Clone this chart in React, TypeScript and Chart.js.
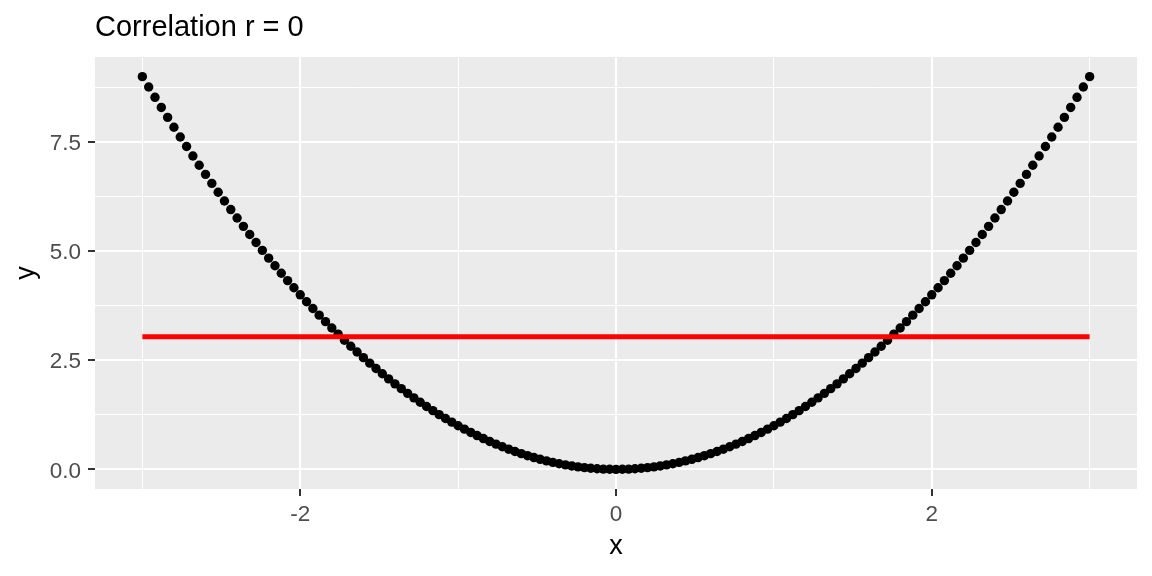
import React, { useEffect, useRef } from "react";
import { Chart, registerables } from "chart.js";

Chart.register(...registerables);

const TITLE = "Correlation r = 0";
const X_LABEL = "x";
const Y_LABEL = "y";

const X_VALUES = [
  -3, -2.96, -2.92, -2.88, -2.84, -2.8, -2.76, -2.72, -2.68, -2.64, -2.6, -2.56, -2.52, -2.48, -2.44, -2.4,
  -2.36, -2.32, -2.28, -2.24, -2.2, -2.16, -2.12, -2.08, -2.04, -2, -1.96, -1.92, -1.88, -1.84, -1.8, -1.76,
  -1.72, -1.68, -1.64, -1.6, -1.56, -1.52, -1.48, -1.44, -1.4, -1.36, -1.32, -1.28, -1.24, -1.2, -1.16, -1.12,
  -1.08, -1.04, -1, -0.96, -0.92, -0.88, -0.84, -0.8, -0.76, -0.72, -0.68, -0.64, -0.6, -0.56, -0.52, -0.48,
  -0.44, -0.4, -0.36, -0.32, -0.28, -0.24, -0.2, -0.16, -0.12, -0.08, -0.04, 0,
  0.04, 0.08, 0.12, 0.16, 0.2, 0.24, 0.28, 0.32, 0.36, 0.4, 0.44, 0.48, 0.52, 0.56, 0.6, 0.64, 0.68, 0.72,
  0.76, 0.8, 0.84, 0.88, 0.92, 0.96, 1, 1.04, 1.08, 1.12, 1.16, 1.2, 1.24, 1.28, 1.32, 1.36, 1.4, 1.44, 1.48,
  1.52, 1.56, 1.6, 1.64, 1.68, 1.72, 1.76, 1.8, 1.84, 1.88, 1.92, 1.96, 2, 2.04, 2.08, 2.12, 2.16, 2.2, 2.24,
  2.28, 2.32, 2.36, 2.4, 2.44, 2.48, 2.52, 2.56, 2.6, 2.64, 2.68, 2.72, 2.76, 2.8, 2.84, 2.88, 2.92, 2.96, 3,
];

const Y_VALUES = [
  9, 8.7616, 8.5264, 8.2944, 8.0656, 7.84, 7.6176, 7.3984, 7.1824, 6.9696, 6.76, 6.5536, 6.3504, 6.1504, 5.9536, 5.76,
  5.5696, 5.3824, 5.1984, 5.0176, 4.84, 4.6656, 4.4944, 4.3264, 4.1616, 4, 3.8416, 3.6864, 3.5344, 3.3856, 3.24, 3.0976,
  2.9584, 2.8224, 2.6896, 2.56, 2.4336, 2.3104, 2.1904, 2.0736, 1.96, 1.8496, 1.7424, 1.6384, 1.5376, 1.44, 1.3456, 1.2544,
  1.1664, 1.0816, 1, 0.9216, 0.8464, 0.7744, 0.7056, 0.64, 0.5776, 0.5184, 0.4624, 0.4096, 0.36, 0.3136, 0.2704, 0.2304,
  0.1936, 0.16, 0.1296, 0.1024, 0.0784, 0.0576, 0.04, 0.0256, 0.0144, 0.0064, 0.0016, 0,
  0.0016, 0.0064, 0.0144, 0.0256, 0.04, 0.0576, 0.0784, 0.1024, 0.1296, 0.16, 0.1936, 0.2304, 0.2704, 0.3136, 0.36, 0.4096,
  0.4624, 0.5184, 0.5776, 0.64, 0.7056, 0.7744, 0.8464, 0.9216, 1, 1.0816, 1.1664, 1.2544, 1.3456, 1.44, 1.5376, 1.6384,
  1.7424, 1.8496, 1.96, 2.0736, 2.1904, 2.3104, 2.4336, 2.56, 2.6896, 2.8224, 2.9584, 3.0976, 3.24, 3.3856, 3.5344, 3.6864,
  3.8416, 4, 4.1616, 4.3264, 4.4944, 4.6656, 4.84, 5.0176, 5.1984, 5.3824, 5.5696, 5.76, 5.9536, 6.1504, 6.3504, 6.5536,
  6.76, 6.9696, 7.1824, 7.3984, 7.6176, 7.84, 8.0656, 8.2944, 8.5264, 8.7616, 9,
];

const MEAN_LINE_X = [-3, 3];
const MEAN_LINE_Y = [3.04, 3.04];

const X_MAJOR_TICKS = [-2, 0, 2];
const X_MINOR_TICKS = [-3, -1, 1, 3];
const X_TICK_LABELS = ["-2", "0", "2"];
const Y_MAJOR_TICKS = [0, 2.5, 5, 7.5];
const Y_MINOR_TICKS = [1.25, 3.75, 6.25, 8.75];
const Y_TICK_LABELS = ["0.0", "2.5", "5.0", "7.5"];

const X_RANGE = [-3.3, 3.3];
const Y_RANGE = [-0.45, 9.45];

const FONT = "'Liberation Sans', Arial, sans-serif";

export default function App() {
  const canvasRef = useRef<HTMLCanvasElement | null>(null);

  useEffect(() => {
    const canvas = canvasRef.current;
    if (!canvas) return;

    const panelBg = {
      id: "panelBg",
      beforeDraw(chart: any) {
        const { ctx, chartArea } = chart;
        ctx.save();
        ctx.fillStyle = "#EBEBEB";
        ctx.fillRect(chartArea.left, chartArea.top, chartArea.right - chartArea.left, chartArea.bottom - chartArea.top);
        ctx.restore();
      },
    };

    const plotTitle = {
      id: "plotTitle",
      afterDraw(chart: any) {
        const { ctx, chartArea } = chart;
        ctx.save();
        ctx.fillStyle = "#000000";
        ctx.font = `29px ${FONT}`;
        ctx.textAlign = "left";
        ctx.textBaseline = "alphabetic";
        ctx.fillText(TITLE, chartArea.left, 36);
        ctx.restore();
      },
    };

    const isMajorX = (v: number) => X_MAJOR_TICKS.includes(v);
    const isMajorY = (v: number) => Y_MAJOR_TICKS.includes(v);

    const chart = new Chart(canvas, {
      type: "scatter",
      data: {
        datasets: [
          {
            type: "line",
            data: MEAN_LINE_X.map((x, i) => ({ x, y: MEAN_LINE_Y[i] })),
            borderColor: "#FF0000",
            borderWidth: 5,
            pointRadius: 0,
            fill: false,
            order: 0,
          } as any,
          {
            type: "scatter",
            data: X_VALUES.map((x, i) => ({ x, y: Y_VALUES[i] })),
            backgroundColor: "#000000",
            borderWidth: 0,
            pointRadius: 4.7,
            order: 1,
          },
        ],
      },
      options: {
        animation: false,
        responsive: false,
        maintainAspectRatio: false,
        layout: { padding: { left: 0, right: 15, top: 57, bottom: 0 } },
        plugins: {
          legend: { display: false },
          tooltip: { enabled: false },
          title: { display: false },
        },
        scales: {
          x: {
            type: "linear",
            min: X_RANGE[0],
            max: X_RANGE[1],
            afterBuildTicks: (scale: any) => {
              scale.ticks = [...X_MINOR_TICKS, ...X_MAJOR_TICKS].sort((a, b) => a - b).map((v) => ({ value: v }));
            },
            afterFit: (scale: any) => {
              scale.height = 87;
            },
            border: { display: false },
            grid: {
              color: "#FFFFFF",
              lineWidth: (ctx: any) => (isMajorX(ctx.tick?.value) ? 2 : 1),
              drawTicks: true,
              tickLength: 7,
              tickWidth: 2,
              tickColor: (ctx: any) => (isMajorX(ctx.tick?.value) ? "#333333" : "rgba(0,0,0,0)"),
            },
            ticks: {
              autoSkip: false,
              maxRotation: 0,
              padding: 5,
              color: "#4D4D4D",
              font: { family: FONT, size: 22.5 },
              callback: (v: any) => {
                const i = X_MAJOR_TICKS.indexOf(Number(v));
                return i >= 0 ? X_TICK_LABELS[i] : "";
              },
            },
            title: {
              display: true,
              text: X_LABEL,
              color: "#000000",
              font: { family: FONT, size: 27, lineHeight: 1 },
              padding: { top: 0, bottom: 16 },
            },
          },
          y: {
            type: "linear",
            min: Y_RANGE[0],
            max: Y_RANGE[1],
            afterBuildTicks: (scale: any) => {
              scale.ticks = [...Y_MINOR_TICKS, ...Y_MAJOR_TICKS].sort((a, b) => a - b).map((v) => ({ value: v }));
            },
            afterFit: (scale: any) => {
              scale.width = 95;
            },
            border: { display: false },
            grid: {
              color: "#FFFFFF",
              lineWidth: (ctx: any) => (isMajorY(ctx.tick?.value) ? 2 : 1),
              drawTicks: true,
              tickLength: 7,
              tickWidth: 2,
              tickColor: (ctx: any) => (isMajorY(ctx.tick?.value) ? "#333333" : "rgba(0,0,0,0)"),
            },
            ticks: {
              autoSkip: false,
              padding: 7,
              labelOffset: 2,
              color: "#4D4D4D",
              font: { family: FONT, size: 22.5 },
              callback: (v: any) => {
                const i = Y_MAJOR_TICKS.indexOf(Number(v));
                return i >= 0 ? Y_TICK_LABELS[i] : "";
              },
            },
            title: {
              display: true,
              text: Y_LABEL,
              color: "#000000",
              font: { family: FONT, size: 27, lineHeight: 1 },
              padding: { top: 13, bottom: 0 },
            },
          },
        },
      },
      plugins: [panelBg, plotTitle],
    } as any);

    return () => chart.destroy();
  }, []);

  return (
    <div style={{ position: "absolute", left: 0, top: 0, width: 1152, height: 576, background: "#FFFFFF" }}>
      <canvas ref={canvasRef} width={1152} height={576} style={{ display: "block", width: 1152, height: 576 }} />
    </div>
  );
}
